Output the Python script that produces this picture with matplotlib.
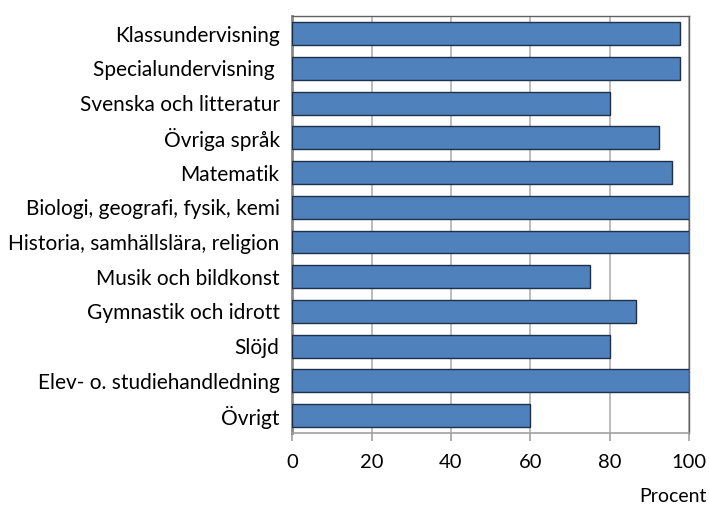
import matplotlib
matplotlib.use("Agg")
import matplotlib.pyplot as plt
import numpy as np

categories = [
    "Klassundervisning",
    "Specialundervisning ",
    "Svenska och litteratur",
    "Övriga språk",
    "Matematik",
    "Biologi, geografi, fysik, kemi",
    "Historia, samhällslära, religion",
    "Musik och bildkonst",
    "Gymnastik och idrott",
    "Slöjd",
    "Elev- o. studiehandledning",
    "Övrigt",
]
values = [97.6, 97.8, 80.0, 92.3, 95.8, 100.0, 100.0, 75.0, 86.7, 80.0, 100.0, 60.0]
xticks = [0, 20, 40, 60, 80, 100]

plt.rcParams["font.family"] = ["Lato", "DejaVu Sans"]

fig = plt.figure(figsize=(7.09, 5.07), dpi=100)
ax = fig.add_axes([0.412, 0.146, 0.560, 0.822])

y = np.arange(len(categories))
ax.barh(y, values, height=0.66, color="#4F81BD", edgecolor="#1F2F48",
        linewidth=1.0, zorder=3)

ax.set_xlim(0, 100)
ax.set_ylim(len(categories) - 0.5, -0.5)
ax.set_xticks(xticks)
ax.set_xticklabels([str(t) for t in xticks], fontsize=14.5)
ax.set_yticks(y)
ax.set_yticklabels(categories, fontsize=15)
ax.tick_params(axis="y", length=0, pad=9)
ax.tick_params(axis="x", length=6, color="#A0A0A0", width=1.2, pad=9)

ax.grid(axis="x", color="#B0B0B0", linewidth=1.2, zorder=0)
for side in ["top", "right"]:
    ax.spines[side].set_color("#606060")
    ax.spines[side].set_linewidth(1.0)
ax.spines["left"].set_color("#888888")
ax.spines["left"].set_linewidth(2.0)
ax.spines["bottom"].set_color("#A0A0A0")
ax.spines["bottom"].set_linewidth(1.2)

fig.text(0.997, 0.004, "Procent", ha="right", va="bottom", fontsize=14)

fig.savefig("out.png", dpi=100)
